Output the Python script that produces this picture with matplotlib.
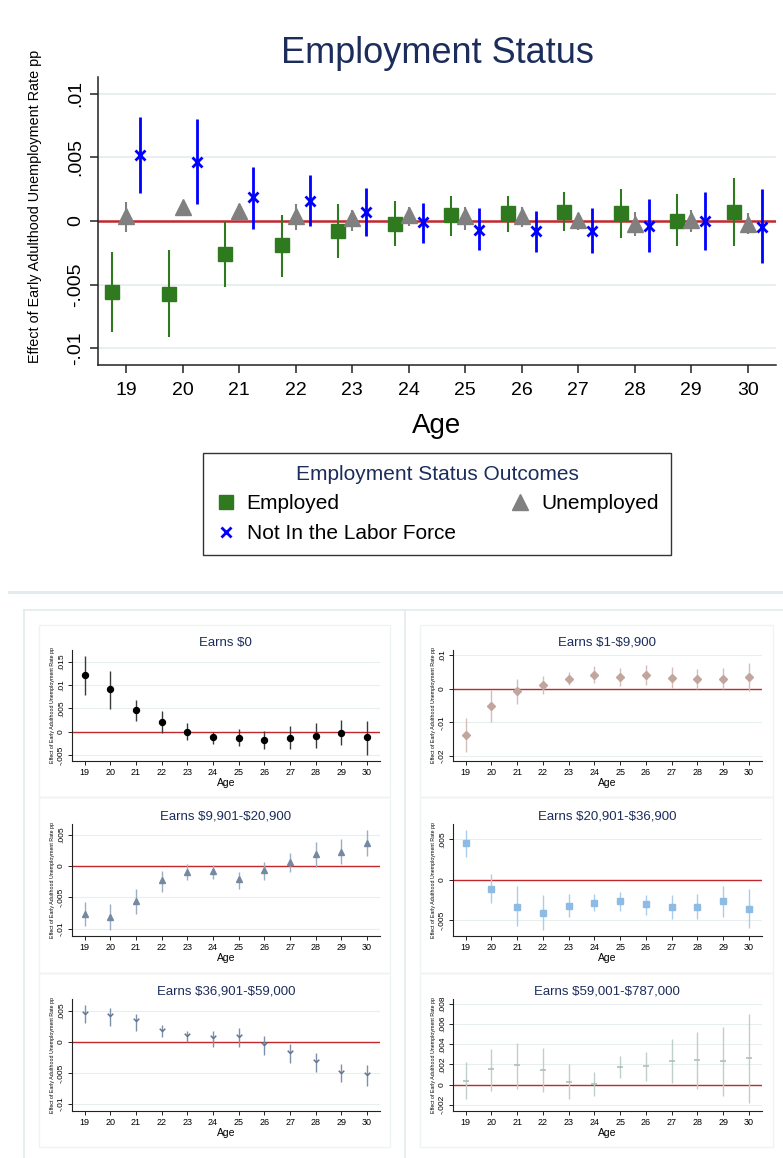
import matplotlib
matplotlib.use('Agg')
import matplotlib.pyplot as plt
from matplotlib.lines import Line2D
from matplotlib.patches import Rectangle
from matplotlib.path import Path

plt.rcParams['font.family'] = ['Liberation Sans', 'DejaVu Sans']

W, H = 783, 1158
NAVY = '#1c2d5c'
RED = '#c0282d'
GRID = '#e6eef0'

ages = list(range(19, 31))

# --- top panel: employment status ---
emp_b = [-0.0056, -0.0057, -0.0026, -0.0019, -0.0008, -0.0002, 0.0005, 0.0006, 0.0007, 0.0006, 0.0000, 0.0007]
emp_lo = [-0.0087, -0.0091, -0.0052, -0.0044, -0.0029, -0.0020, -0.0012, -0.0009, -0.0008, -0.0013, -0.0020, -0.0020]
emp_hi = [-0.0024, -0.0023, 0.0000, 0.0005, 0.0013, 0.0016, 0.0020, 0.0020, 0.0023, 0.0025, 0.0021, 0.0034]

unemp_b = [0.0004, 0.0011, 0.0008, 0.0004, 0.0002, 0.0005, 0.0004, 0.0004, 0.0001, -0.0002, 0.0001, -0.0002]
unemp_lo = [-0.0009, 0.0004, 0.0003, -0.0007, -0.0008, -0.0004, -0.0007, -0.0005, -0.0007, -0.0012, -0.0009, -0.0010]
unemp_hi = [0.0015, 0.0016, 0.0013, 0.0013, 0.0009, 0.0011, 0.0011, 0.0011, 0.0006, 0.0007, 0.0009, 0.0006]

nilf_b = [0.0052, 0.0046, 0.0019, 0.0016, 0.0007, -0.0001, -0.0007, -0.0008, -0.0008, -0.0004, 0.0000, -0.0005]
nilf_lo = [0.0022, 0.0013, -0.0006, -0.0004, -0.0012, -0.0017, -0.0023, -0.0024, -0.0025, -0.0024, -0.0023, -0.0033]
nilf_hi = [0.0082, 0.0080, 0.0042, 0.0036, 0.0026, 0.0014, 0.0010, 0.0008, 0.0010, 0.0017, 0.0023, 0.0025]

top_yticks = [-0.01, -0.005, 0, 0.005, 0.01]
top_ylabels = ['-.01', '-.005', '0', '.005', '.01']

# --- bottom panels: earnings bins ---
p0_b = [0.0121, 0.0091, 0.0046, 0.0021, 0.0000, -0.0012, -0.0013, -0.0017, -0.0013, -0.0009, -0.0002, -0.0012]
p0_lo = [0.0079, 0.0049, 0.0022, -0.0003, -0.0017, -0.0026, -0.0031, -0.0036, -0.0036, -0.0034, -0.0029, -0.0049]
p0_hi = [0.0163, 0.0131, 0.0069, 0.0044, 0.0018, 0.0000, 0.0006, 0.0001, 0.0012, 0.0019, 0.0025, 0.0024]

p1_b = [-0.0138, -0.0052, -0.0008, 0.0011, 0.0030, 0.0042, 0.0036, 0.0041, 0.0033, 0.0030, 0.0030, 0.0036]
p1_lo = [-0.0187, -0.0100, -0.0045, -0.0016, 0.0010, 0.0016, 0.0009, 0.0011, 0.0003, 0.0000, 0.0000, -0.0007]
p1_hi = [-0.0086, -0.0004, 0.0029, 0.0038, 0.0049, 0.0067, 0.0062, 0.0070, 0.0063, 0.0060, 0.0062, 0.0077]

p2_b = [-0.0077, -0.0081, -0.0056, -0.0023, -0.0010, -0.0008, -0.0021, -0.0007, 0.0006, 0.0019, 0.0023, 0.0037]
p2_lo = [-0.0096, -0.0102, -0.0076, -0.0041, -0.0023, -0.0020, -0.0036, -0.0022, -0.0009, -0.0002, 0.0003, 0.0016]
p2_hi = [-0.0058, -0.0061, -0.0037, -0.0008, 0.0003, 0.0001, -0.0009, 0.0007, 0.0021, 0.0038, 0.0043, 0.0057]

p3_b = [0.0045, -0.0011, -0.0033, -0.0041, -0.0032, -0.0029, -0.0026, -0.0030, -0.0033, -0.0033, -0.0026, -0.0036]
p3_lo = [0.0028, -0.0029, -0.0057, -0.0062, -0.0046, -0.0039, -0.0038, -0.0043, -0.0048, -0.0048, -0.0046, -0.0059]
p3_hi = [0.0062, 0.0007, -0.0008, -0.0019, -0.0017, -0.0017, -0.0015, -0.0019, -0.0019, -0.0018, -0.0007, -0.0011]

p4_b = [0.0045, 0.0041, 0.0033, 0.0018, 0.0009, 0.0006, 0.0008, -0.0005, -0.0018, -0.0033, -0.0050, -0.0054]
p4_lo = [0.0031, 0.0026, 0.0018, 0.0007, 0.0000, -0.0008, -0.0009, -0.0021, -0.0034, -0.0049, -0.0064, -0.0072]
p4_hi = [0.0060, 0.0054, 0.0045, 0.0027, 0.0018, 0.0018, 0.0022, 0.0010, -0.0003, -0.0018, -0.0036, -0.0038]

p5_b = [0.0004, 0.0015, 0.0019, 0.0014, 0.0003, 0.0001, 0.0017, 0.0018, 0.0023, 0.0024, 0.0023, 0.0026]
p5_lo = [-0.0014, -0.0006, -0.0004, -0.0007, -0.0014, -0.0011, 0.0006, 0.0004, 0.0002, -0.0004, -0.0011, -0.0018]
p5_hi = [0.0022, 0.0035, 0.0041, 0.0036, 0.0020, 0.0012, 0.0028, 0.0032, 0.0045, 0.0052, 0.0057, 0.0070]

panel_titles = ['Earns $0', 'Earns $1-$9,900', 'Earns $9,901-$20,900',
                'Earns $20,901-$36,900', 'Earns $36,901-$59,000', 'Earns $59,001-$787,000']

ylabel_text = 'Effect of Early Adulthood Unemployment Rate pp'


def px_rect(left, top, right, bottom):
    return [left / W, 1 - bottom / H, (right - left) / W, (bottom - top) / H]


fig = plt.figure(figsize=(W / 100, H / 100), dpi=100)

# ---------------- top panel ----------------
ax = fig.add_axes(px_rect(98, 77, 776, 365))
off = 0.25
x_emp = [a - off for a in ages]
x_nilf = [a + off for a in ages]

for y in top_yticks:
    if y != 0:
        ax.axhline(y, color=GRID, lw=1.3, zorder=0)
ax.axhline(0, color=RED, lw=1.8, zorder=1)

ax.vlines(x_emp, emp_lo, emp_hi, color='#2f7a1f', lw=1.5, zorder=2)
ax.plot(x_emp, emp_b, ls='none', marker='s', ms=10.5, color='#2f7a1f', zorder=3)
ax.vlines(ages, unemp_lo, unemp_hi, color='#808080', lw=1.5, zorder=2)
ax.plot(ages, unemp_b, ls='none', marker='^', ms=11, color='#808080', zorder=3)
ax.vlines(x_nilf, nilf_lo, nilf_hi, color='#0000ff', lw=2.0, zorder=2)
ax.plot(x_nilf, nilf_b, ls='none', marker='x', ms=7, mew=2.0, color='#0000ff', zorder=4)

ax.set_xlim(18.5, 30.5)
ax.set_ylim(-0.0113, 0.0113)
ax.set_xticks(ages)
ax.set_xticklabels([str(a) for a in ages], fontsize=14)
ax.set_yticks(top_yticks)
ax.set_yticklabels(top_ylabels, fontsize=14, rotation=90, va='center')
ax.tick_params(axis='both', direction='out', length=6, width=1.1, color='#222222')
ax.tick_params(axis='x', pad=6)
ax.tick_params(axis='y', pad=4)
for s in ['top', 'right']:
    ax.spines[s].set_visible(False)
for s in ['left', 'bottom']:
    ax.spines[s].set_linewidth(1.1)
    ax.spines[s].set_color('#222222')
ax.set_xlabel('Age', fontsize=20, labelpad=10)
ax.set_ylabel(ylabel_text, fontsize=10.4)
ax.yaxis.set_label_coords(-0.082, 0.55)
ax.set_title('Employment Status', fontsize=26, color=NAVY, pad=10)

handles = [
    Line2D([], [], ls='none', marker='s', ms=10.5, color='#2f7a1f'),
    Line2D([], [], ls='none', marker='x', ms=7, mew=2.0, color='#0000ff'),
    Line2D([], [], ls='none', marker='^', ms=11, color='#808080'),
]
labels = ['Employed', 'Not In the Labor Force', 'Unemployed']
leg = fig.legend(handles, labels, ncol=2, loc='center',
                 bbox_to_anchor=(437 / W, 1 - 504 / H),
                 fontsize=15, title='Employment Status Outcomes',
                 title_fontsize=15, frameon=True, fancybox=False,
                 edgecolor='black', columnspacing=2.6, handletextpad=0.5,
                 handlelength=1.0, borderpad=0.6, labelspacing=0.5)
leg.get_title().set_color(NAVY)
leg.get_frame().set_linewidth(1.0)

# ---------------- background frames of bottom graph ----------------
light = '#e2ebed'
lighter = '#eef3f4'
fig.add_artist(Line2D([9 / W, 1], [1 - 592 / H, 1 - 592 / H], color=light, lw=2.2))
fig.add_artist(Line2D([24 / W, 24 / W], [1 - 610 / H, 0], color=light, lw=1.2))
fig.add_artist(Line2D([24 / W, 1], [1 - 610 / H, 1 - 610 / H], color=light, lw=1.2))
fig.add_artist(Line2D([405 / W, 405 / W], [1 - 610 / H, 0], color=light, lw=1.2))
for (l, r) in [(39, 390), (420, 773)]:
    for (t, b) in [(625, 797), (797, 973), (973, 1147)]:
        fig.add_artist(Rectangle((l / W, 1 - b / H), (r - l) / W, (b - t) / H,
                                 fill=False, edgecolor=lighter, lw=1.0))


def chevron():
    return Path([(-1, 1), (0, 0), (1, 1)], [Path.MOVETO, Path.LINETO, Path.LINETO])


def small_panel(rect, title, b, lo, hi, color, ci_color, marker, ms,
                yticks, ylabels, ylim, mew=1.0, mfc=None):
    a = fig.add_axes(rect)
    for y in yticks:
        if y != 0:
            a.axhline(y, color=GRID, lw=0.8, zorder=0)
    a.axhline(0, color=RED, lw=1.0, zorder=1)
    a.vlines(ages, lo, hi, color=ci_color, lw=1.0, zorder=2)
    a.plot(ages, b, ls='none', marker=marker, ms=ms, color=color, mew=mew,
           mfc=color if mfc is None else mfc, zorder=3)
    a.set_xlim(18.5, 30.5)
    a.set_ylim(*ylim)
    a.set_xticks(ages)
    a.set_xticklabels([str(x) for x in ages], fontsize=6.5)
    a.set_yticks(yticks)
    a.set_yticklabels(ylabels, fontsize=6, rotation=90, va='center')
    a.tick_params(axis='both', direction='out', length=3, width=0.7,
                  color='#222222', pad=2)
    for s in ['top', 'right']:
        a.spines[s].set_visible(False)
    for s in ['left', 'bottom']:
        a.spines[s].set_linewidth(0.8)
        a.spines[s].set_color('#222222')
    a.set_title(title, fontsize=9.5, color=NAVY, pad=3, parse_math=False)
    a.set_xlabel('Age', fontsize=7.5, labelpad=1)
    a.set_ylabel(ylabel_text, fontsize=3.8, labelpad=2)
    return a


rows = [(650, 760.7), (824, 935.7), (999, 1110.7)]
cols = [(71.7, 380), (452.7, 761.7)]

small_panel(px_rect(cols[0][0], rows[0][0], cols[0][1], rows[0][1]), panel_titles[0],
            p0_b, p0_lo, p0_hi, 'black', '#3a3a3a', 'o', 4.3,
            [-0.005, 0, 0.005, 0.01, 0.015], ['-.005', '0', '.005', '.01', '.015'],
            (-0.0062, 0.0175))
small_panel(px_rect(cols[1][0], rows[0][0], cols[1][1], rows[0][1]), panel_titles[1],
            p1_b, p1_lo, p1_hi, '#c2a69d', '#d4bfb8', 'D', 4.0,
            [-0.02, -0.01, 0, 0.01], ['-.02', '-.01', '0', '.01'],
            (-0.0214, 0.0115))
small_panel(px_rect(cols[0][0], rows[1][0], cols[0][1], rows[1][1]), panel_titles[2],
            p2_b, p2_lo, p2_hi, '#7589a0', '#9eadbf', '^', 4.3,
            [-0.01, -0.005, 0, 0.005], ['-.01', '-.005', '0', '.005'],
            (-0.0111, 0.0067))
small_panel(px_rect(cols[1][0], rows[1][0], cols[1][1], rows[1][1]), panel_titles[3],
            p3_b, p3_lo, p3_hi, '#8dbbe4', '#a9cdec', 's', 4.3,
            [-0.005, 0, 0.005], ['-.005', '0', '.005'],
            (-0.0069, 0.0069))
small_panel(px_rect(cols[0][0], rows[2][0], cols[0][1], rows[2][1]), panel_titles[4],
            p4_b, p4_lo, p4_hi, '#5f7590', '#7d90a8', chevron(), 4.0,
            [-0.01, -0.005, 0, 0.005], ['-.01', '-.005', '0', '.005'],
            (-0.0111, 0.0069), mew=1.1, mfc='none')
small_panel(px_rect(cols[1][0], rows[2][0], cols[1][1], rows[2][1]), panel_titles[5],
            p5_b, p5_lo, p5_hi, '#a9bdb5', '#bfcfc9', '_', 5.0,
            [-0.002, 0, 0.002, 0.004, 0.006, 0.008],
            ['-.002', '0', '.002', '.004', '.006', '.008'],
            (-0.0026, 0.0085), mew=1.1)

fig.savefig('out.png', dpi=100)
